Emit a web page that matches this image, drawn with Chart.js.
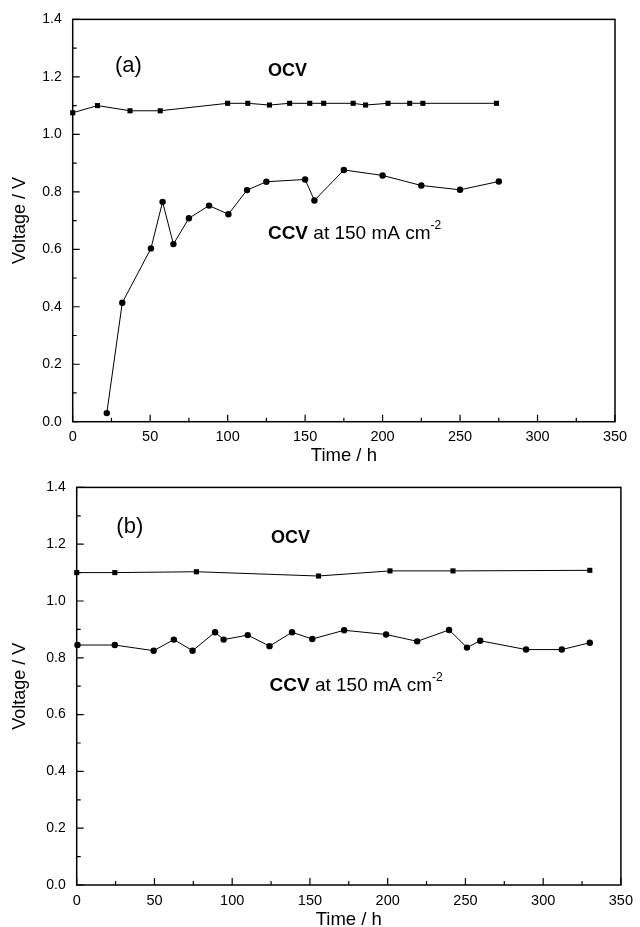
<!DOCTYPE html>
<html>
<head>
<meta charset="utf-8">
<script src="https://cdn.jsdelivr.net/npm/chart.js@4.4.0/dist/chart.umd.min.js"></script>
<style>
  html, body { margin: 0; padding: 0; background: #fff; overflow: hidden; }
  .panel { position: absolute; left: 0; width: 640px; }
  #wrapA { top: 0; height: 468px; }
  #wrapB { top: 468px; height: 465px; }
</style>
</head>
<body>
<div class="panel" id="wrapA"><canvas id="chartA"></canvas></div>
<div class="panel" id="wrapB"><canvas id="chartB"></canvas></div>
<script>
// panel (a)
const ocvA_time = [0, 16, 37, 56.5, 100, 113, 127, 140, 153, 162, 181, 189, 203.5, 217.5, 226, 273.5];
const ocvA_volt = [1.075, 1.10, 1.082, 1.082, 1.108, 1.108, 1.102, 1.108, 1.108, 1.108, 1.108, 1.102, 1.108, 1.108, 1.108, 1.108];
const ccvA_time = [22, 32, 50.5, 58, 65, 75, 88, 100.5, 112.5, 125, 150, 156, 175, 200, 225, 250, 275];
const ccvA_volt = [0.03, 0.414, 0.603, 0.765, 0.618, 0.708, 0.752, 0.722, 0.806, 0.835, 0.843, 0.77, 0.876, 0.857, 0.822, 0.807, 0.836];

// panel (b)
const ocvB_time = [0, 24.5, 77, 155.5, 201.5, 242, 330];
const ocvB_volt = [1.10, 1.10, 1.103, 1.088, 1.106, 1.106, 1.108];
const ccvB_time = [0.5, 24.5, 49.5, 62.5, 74.5, 89, 94.5, 110, 124, 138.5, 151.5, 172, 199, 219, 239.5, 251, 259.5, 289, 312, 330];
const ccvB_volt = [0.845, 0.845, 0.825, 0.864, 0.825, 0.89, 0.864, 0.88, 0.841, 0.89, 0.866, 0.897, 0.882, 0.858, 0.898, 0.836, 0.86, 0.829, 0.829, 0.853];

const FONT = "'Liberation Sans', Arial, sans-serif";

function pts(xs, ys) {
  return xs.map((x, i) => ({ x: x, y: ys[i] }));
}

// box round the plot with inward ticks (majors + minors)
const frameTicks = {
  id: 'frameTicks',
  afterDatasetsDraw(chart) {
    const { ctx, chartArea: a, scales: { x, y } } = chart;
    ctx.save();
    ctx.strokeStyle = '#000';
    ctx.lineWidth = 1.5;
    ctx.strokeRect(a.left, a.top, a.right - a.left, a.bottom - a.top);
    ctx.lineWidth = 1.2;
    ctx.beginPath();
    for (let t = x.min; t <= x.max; t += 25) {
      const px = x.getPixelForValue(t);
      const len = t % 50 === 0 ? 7 : 4;
      ctx.moveTo(px, a.bottom);
      ctx.lineTo(px, a.bottom - len);
    }
    for (let i = 0; i <= 14; i++) {
      const py = y.getPixelForValue(i / 10);
      const len = i % 2 === 0 ? 7 : 4;
      ctx.moveTo(a.left, py);
      ctx.lineTo(a.left + len, py);
    }
    ctx.stroke();
    ctx.restore();
  }
};

// text notes placed in data coordinates
const notes = {
  id: 'notes',
  afterDraw(chart, args, opts) {
    const { ctx, scales: { x, y } } = chart;
    ctx.save();
    ctx.fillStyle = '#000';
    ctx.textBaseline = 'middle';
    ctx.textAlign = 'left';
    (opts.items || []).forEach(it => {
      let px = x.getPixelForValue(it.x);
      const py = y.getPixelForValue(it.y);
      it.parts.forEach(p => {
        ctx.font = p.font;
        ctx.fillText(p.text, px, py + (p.dy || 0));
        px += ctx.measureText(p.text).width;
      });
    });
    ctx.restore();
  }
};

function ccvLabel(t, v) {
  return {
    x: t, y: v, parts: [
      { text: 'CCV', font: 'bold 19px ' + FONT },
      { text: ' at 150 mA cm', font: '19px ' + FONT },
      { text: '-2', font: '12px ' + FONT, dy: -8 }
    ]
  };
}

function makeChart(id, ocv, ccv, cfg) {
  const ctx = document.getElementById(id).getContext('2d');
  return new Chart(ctx, {
    type: 'scatter',
    data: {
      datasets: [
        {
          label: 'OCV',
          data: ocv,
          showLine: true,
          borderColor: '#000',
          backgroundColor: '#000',
          borderWidth: 1,
          pointStyle: 'rect',
          pointRadius: 3.6,
          pointBorderWidth: 0,
          clip: false
        },
        {
          label: 'CCV',
          data: ccv,
          showLine: true,
          borderColor: '#000',
          backgroundColor: '#000',
          borderWidth: 1,
          pointStyle: 'circle',
          pointRadius: 3.2,
          pointBorderWidth: 0,
          clip: false
        }
      ]
    },
    options: {
      responsive: true,
      maintainAspectRatio: false,
      animation: false,
      layout: { padding: { top: cfg.top, right: cfg.right, left: 0, bottom: 0 } },
      plugins: {
        legend: { display: false },
        tooltip: { enabled: false },
        notes: { items: cfg.notes }
      },
      scales: {
        x: {
          type: 'linear',
          min: 0,
          max: 350,
          border: { display: false },
          grid: { display: false, drawTicks: false },
          ticks: { stepSize: 50, padding: 7, color: '#000', font: { family: FONT, size: 14.5 } },
          title: {
            display: true,
            text: 'Time / h',
            color: '#000',
            font: { family: FONT, size: 18.5 },
            padding: { top: 0, bottom: cfg.titlePad }
          },
          afterFit(s) { s.height = cfg.xh; }
        },
        y: {
          min: 0,
          max: 1.4,
          border: { display: false },
          grid: { display: false, drawTicks: false },
          ticks: {
            stepSize: 0.2,
            padding: 11,
            color: '#000',
            font: { family: FONT, size: 14 },
            callback: v => v.toFixed(1)
          },
          title: {
            display: true,
            text: 'Voltage / V',
            color: '#000',
            font: { family: FONT, size: 18 },
            padding: { top: 9, bottom: 0 }
          },
          afterFit(s) { s.width = cfg.yw; }
        }
      }
    },
    plugins: [frameTicks, notes]
  });
}

makeChart('chartA', pts(ocvA_time, ocvA_volt), pts(ccvA_time, ccvA_volt), {
  top: 18, right: 25, xh: 46.3, yw: 72.7, titlePad: 0.5,
  notes: [
    { x: 27.3, y: 1.239, parts: [{ text: '(a)', font: '22px ' + FONT }] },
    { x: 126, y: 1.221, parts: [{ text: 'OCV', font: 'bold 18px ' + FONT }] },
    ccvLabel(126, 0.655)
  ]
});

makeChart('chartB', pts(ocvB_time, ocvB_volt), pts(ccvB_time, ccvB_volt), {
  top: 10, right: 15, xh: 48, yw: 76.7, titlePad: 2.2,
  notes: [
    { x: 25.5, y: 1.26, parts: [{ text: '(b)', font: '22px ' + FONT }] },
    { x: 125, y: 1.22, parts: [{ text: 'OCV', font: 'bold 18px ' + FONT }] },
    ccvLabel(124, 0.702)
  ]
});
</script>
</body>
</html>
